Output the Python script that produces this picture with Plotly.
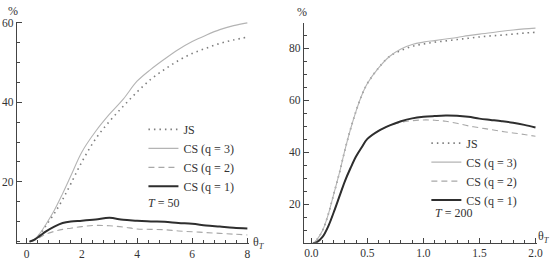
import plotly.graph_objects as go

# ---- data: T = 50 (left panel) ----
x50 = [0.1, 0.3, 0.5, 0.7, 1.0, 1.3, 1.6, 2.0, 2.5, 3.0, 3.5, 4.0, 4.5, 5.0, 5.5, 6.0, 6.5, 7.0, 7.5, 8.0]
js50 = [4.9, 5.5, 7.0, 9.0, 12.0, 15.5, 19.5, 25.0, 30.8, 35.2, 39.0, 42.6, 45.8, 48.3, 50.5, 52.3, 53.6, 54.8, 55.7, 56.4]
q3_50 = [4.9, 5.6, 7.2, 9.3, 12.8, 17.0, 21.5, 27.5, 32.7, 37.0, 40.8, 45.3, 48.3, 50.9, 53.3, 55.3, 56.9, 58.3, 59.3, 60.0]
q2_50 = [4.9, 5.4, 6.1, 6.8, 7.5, 8.0, 8.3, 8.7, 9.0, 8.9, 8.6, 8.1, 8.0, 7.9, 7.6, 7.4, 7.2, 7.0, 6.8, 6.6]
q1_50 = [4.9, 5.5, 6.5, 7.5, 8.7, 9.6, 10.0, 10.2, 10.5, 10.9, 10.4, 10.2, 10.0, 9.9, 9.6, 9.4, 9.0, 8.7, 8.4, 8.2]

# ---- data: T = 200 (right panel) ----
x200 = [0.015, 0.05, 0.1, 0.15, 0.2, 0.25, 0.3, 0.35, 0.4, 0.45, 0.5, 0.6, 0.7, 0.8, 0.9, 1.0,
        1.1, 1.2, 1.3, 1.4, 1.5, 1.6, 1.7, 1.8, 1.9, 2.0]
js200 = [5.0, 6.5, 10.0, 16.0, 24.0, 32.0, 41.0, 49.0, 56.0, 62.0, 66.5, 72.5, 77.0, 79.2, 80.8, 81.7,
         82.4, 82.9, 83.4, 83.9, 84.4, 84.8, 85.1, 85.5, 85.9, 86.2]
q3_200 = [5.0, 6.5, 10.0, 16.0, 24.0, 32.0, 41.0, 49.0, 56.0, 62.0, 66.5, 72.5, 77.0, 79.8, 81.5, 82.4,
          83.0, 83.6, 84.2, 84.9, 85.5, 86.0, 86.6, 87.1, 87.5, 87.8]
q2_200 = [5.0, 5.5, 7.5, 11.5, 17.0, 23.0, 29.0, 34.0, 38.5, 42.0, 45.2, 48.3, 50.4, 51.6, 52.2, 52.5,
          52.4, 52.0, 51.2, 50.2, 49.5, 48.8, 48.1, 47.5, 46.9, 46.2]
q1_200 = [5.0, 5.5, 7.5, 11.5, 17.0, 23.0, 29.0, 34.0, 38.5, 42.0, 45.2, 48.3, 50.4, 52.0, 53.1, 53.7,
          54.0, 54.2, 54.1, 53.7, 53.0, 52.5, 52.0, 51.4, 50.6, 49.6]

labels = ["JS", "CS (q = 3)", "CS (q = 2)", "CS (q = 1)"]
styles = [
    dict(color="#7e7e7e", width=1.6, dash="1.5px,4px"),
    dict(color="#b4b4b4", width=1.1),
    dict(color="#a8a8a8", width=1.1, dash="6px,4px"),
    dict(color="#2e2e2e", width=2.0),
]

SERIF = "Liberation Serif, Times New Roman, serif"
W, H = 558, 262
fig = go.Figure()

for xs, ys_list, xa, ya, leg in [
    (x50, [js50, q3_50, q2_50, q1_50], "x", "y", "legend"),
    (x200, [js200, q3_200, q2_200, q1_200], "x2", "y2", "legend2"),
]:
    for name, ys, st in zip(labels, ys_list, styles):
        fig.add_trace(go.Scatter(x=xs, y=ys, mode="lines", name=name, line=st,
                                 xaxis=xa, yaxis=ya, legend=leg, line_shape="spline"))

axis_common = dict(showline=True, linecolor="#444", linewidth=1, showgrid=False, zeroline=False,
                   ticks="inside", ticklen=5, tickcolor="#444", mirror=False,
                   tickfont=dict(family=SERIF, size=11.5, color="#333"))


def px(x, y):
    return x / W, 1 - y / H


fig.update_layout(
    width=W, height=H,
    margin=dict(l=0, r=0, t=0, b=0),
    paper_bgcolor="white", plot_bgcolor="white",
    font=dict(family=SERIF, size=11, color="#333"),
    xaxis=dict(domain=[17 / W, 252 / W], range=[-0.36, 8.07], tickvals=[0, 2, 4, 6, 8],
               minor=dict(dtick=0.4, tick0=0, ticks="inside", ticklen=3, tickcolor="#444"),
               anchor="y", **axis_common),
    yaxis=dict(domain=[1 - 242.5 / H, 1 - 17 / H], range=[4.6, 60.3], tickvals=[20, 40, 60],
               minor=dict(dtick=5, tick0=0, ticks="inside", ticklen=3, tickcolor="#444"),
               anchor="x", **axis_common),
    xaxis2=dict(domain=[307 / W, 543 / W], range=[-0.068, 2.015], tickvals=[0, 0.5, 1.0, 1.5, 2.0],
                ticktext=["0.0", "0.5", "1.0", "1.5", "2.0"],
                minor=dict(dtick=0.1, tick0=0, ticks="inside", ticklen=3, tickcolor="#444"),
                anchor="y2", **axis_common),
    yaxis2=dict(domain=[1 - 242.3 / H, 1 - 18 / H], range=[5.3, 89.9], tickvals=[20, 40, 60, 80],
                minor=dict(dtick=5, tick0=0, ticks="inside", ticklen=3, tickcolor="#444"),
                anchor="x2", **axis_common),
    legend=dict(x=145 / W, y=1 - 112 / H, xanchor="left", yanchor="top", bgcolor="rgba(0,0,0,0)",
                font=dict(family=SERIF, size=12, color="#333"), itemwidth=30, tracegroupgap=0),
    legend2=dict(x=431 / W, y=1 - 126 / H, xanchor="left", yanchor="top", bgcolor="rgba(0,0,0,0)",
                 font=dict(family=SERIF, size=12, color="#333"), itemwidth=30, tracegroupgap=0),
    showlegend=True,
)

annots = [
    ((13, 6), "%"),
    ((305, 7), "%"),
    ((262, 243), "θ<sub><i>T</i></sub>"),
    ((550, 237), "θ<sub><i>T</i></sub>"),
    ((165, 202), "<i>T</i> = 50"),
    ((458, 212), "<i>T</i> = 200"),
]
for (ax, ay), text in annots:
    xx, yy = px(ax, ay)
    fig.add_annotation(xref="paper", yref="paper", x=xx, y=yy, text=text,
                       showarrow=False, xanchor="center", yanchor="middle",
                       font=dict(family=SERIF, size=12, color="#333"))

fig.write_html("out.html", config={"displayModeBar": False},
               post_script="document.body.style.margin='0';document.body.style.padding='0';")
